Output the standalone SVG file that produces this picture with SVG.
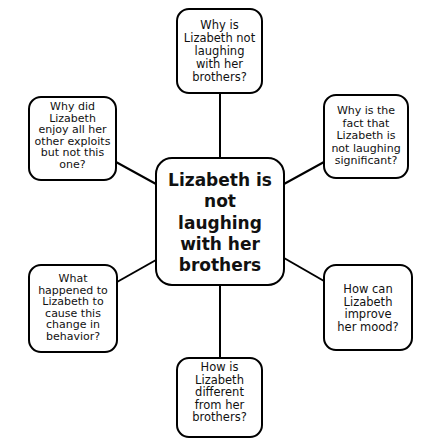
<svg xmlns="http://www.w3.org/2000/svg" width="432" height="444" viewBox="0 0 432 444">
<style>
.box{fill:#fff;stroke:#000;stroke-width:2}
.t{font-family:"DejaVu Sans",sans-serif;font-size:11px;fill:#111;text-anchor:middle}
.l{font-size:11.5px}
.c{font-family:"DejaVu Sans",sans-serif;font-weight:bold;font-size:17px;fill:#111;text-anchor:middle}
.ln{stroke:#000;stroke-width:2;fill:none}
</style>
<rect width="432" height="444" fill="#fff"/>
<g id="connectors">
<line class="ln" x1="220" y1="158" x2="220" y2="93"/>
<line class="ln" x1="220" y1="285" x2="220" y2="358"/>
<line class="ln" x1="116" y1="162" x2="156" y2="184"/>
<line class="ln" x1="324" y1="162" x2="284" y2="184"/>
<line class="ln" x1="117" y1="282" x2="156" y2="260"/>
<line class="ln" x1="324" y1="281" x2="284" y2="258"/>
</g>
<g id="center">
<rect class="box" x="156" y="158" width="128" height="127" rx="16"/>
<text class="c" x="220" y="186">Lizabeth is</text>
<text class="c" x="220" y="207">not</text>
<text class="c" x="220" y="228.5">laughing</text>
<text class="c" x="220" y="249.5">with her</text>
<text class="c" x="220" y="270.5">brothers</text>
</g>
<g id="top">
<rect class="box" x="177" y="9" width="85" height="84" rx="12"/>
<text class="t l" x="219.5" y="29">Why is</text>
<text class="t l" x="219.5" y="42">Lizabeth not</text>
<text class="t l" x="219.5" y="55">laughing</text>
<text class="t l" x="219.5" y="68">with her</text>
<text class="t l" x="219.5" y="81">brothers?</text>
</g>
<g id="topleft">
<rect class="box" x="29" y="97" width="87" height="83" rx="12"/>
<text class="t" x="72.5" y="110">Why did</text>
<text class="t" x="72.5" y="121.5">Lizabeth</text>
<text class="t" x="72.5" y="133">enjoy all her</text>
<text class="t" x="72.5" y="144.5">other exploits</text>
<text class="t" x="72.5" y="156">but not this</text>
<text class="t" x="72.5" y="167.5">one?</text>
</g>
<g id="topright">
<rect class="box" x="324" y="95" width="84" height="83" rx="12"/>
<text class="t" x="366" y="114">Why is the</text>
<text class="t" x="366" y="126.5">fact that</text>
<text class="t" x="366" y="139">Lizabeth is</text>
<text class="t" x="366" y="151.5">not laughing</text>
<text class="t" x="366" y="164">significant?</text>
</g>
<g id="bottomleft">
<rect class="box" x="29" y="265" width="88" height="87" rx="12"/>
<text class="t" x="73" y="282">What</text>
<text class="t" x="73" y="293.6">happened to</text>
<text class="t" x="73" y="305.2">Lizabeth to</text>
<text class="t" x="73" y="316.8">cause this</text>
<text class="t" x="73" y="328.4">change in</text>
<text class="t" x="73" y="340">behavior?</text>
</g>
<g id="bottomright">
<rect class="box" x="324" y="265" width="88" height="85" rx="12"/>
<text class="t l" x="368" y="293">How can</text>
<text class="t l" x="368" y="305.5">Lizabeth</text>
<text class="t l" x="368" y="318">improve</text>
<text class="t l" x="368" y="330.5">her mood?</text>
</g>
<g id="bottom">
<rect class="box" x="177" y="358" width="85" height="79" rx="12"/>
<text class="t l" x="219.5" y="371">How is</text>
<text class="t l" x="219.5" y="383.5">Lizabeth</text>
<text class="t l" x="219.5" y="396">different</text>
<text class="t l" x="219.5" y="408.5">from her</text>
<text class="t l" x="219.5" y="421">brothers?</text>
</g>
</svg>
